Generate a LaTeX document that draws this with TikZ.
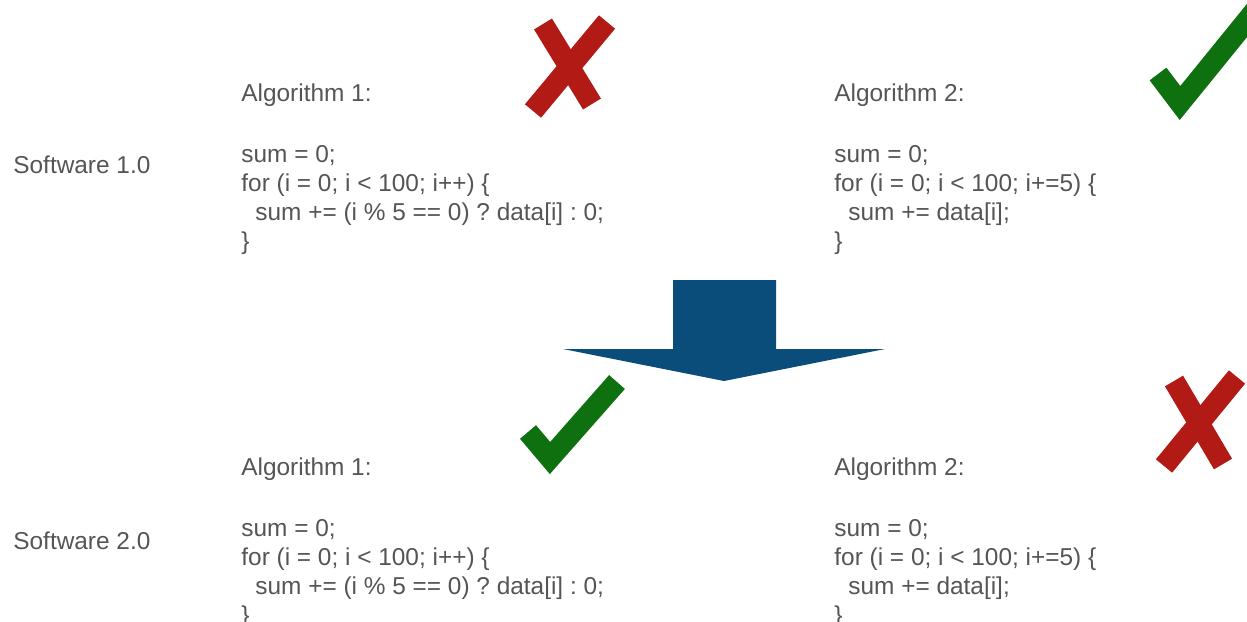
\documentclass[tikz,border=0pt]{standalone}
\usepackage{fontspec}
\setmainfont{Liberation Sans}
\usepackage{xcolor}
\definecolor{textgray}{HTML}{555555}
\definecolor{crossred}{HTML}{B21B15}
\definecolor{tickgreen}{HTML}{0F700F}
\definecolor{arrowblue}{HTML}{0A4D7A}
\usepackage{tikz}
\usetikzlibrary{positioning}
\frenchspacing

\tikzset{
  plaintext/.style={textgray, font=\fontsize{12.2}{14.5}\selectfont, inner sep=0pt, anchor=base west},
  markstroke/.style={line width=10.5pt, line cap=butt},
}

\begin{document}
\begin{tikzpicture}[x=0.5pt, y=-0.5pt]
  \useasboundingbox (0,0) rectangle (1247,621);

  % row labels
  \node[plaintext] (sw1) at (13,173) {Software 1.0};
  \node[plaintext] (sw2) at (13,549) {Software 2.0};

  % top row
  \node[plaintext] (algA1) at (241,101) {Algorithm 1:};
  \node[plaintext] (codeA1) at (241,162) {sum = 0;};
  \node[plaintext] (codeA2) at (241,191) {for (i = 0; i < 100; i++) \{};
  \node[plaintext] (codeA3) at (255,220) {sum += (i \% 5 == 0) ? data[i] : 0;};
  \node[plaintext] (codeA4) at (241,249) {\}};

  \node[plaintext] (algB1) at (834,101) {Algorithm 2:};
  \node[plaintext] (codeB1) at (834,162) {sum = 0;};
  \node[plaintext] (codeB2) at (834,191) {for (i = 0; i < 100; i+=5) \{};
  \node[plaintext] (codeB3) at (848,220) {sum += data[i];};
  \node[plaintext] (codeB4) at (834,249) {\}};

  % bottom row
  \node[plaintext] (algC1) at (241,475) {Algorithm 1:};
  \node[plaintext] (codeC1) at (241,536) {sum = 0;};
  \node[plaintext] (codeC2) at (241,565) {for (i = 0; i < 100; i++) \{};
  \node[plaintext] (codeC3) at (255,594) {sum += (i \% 5 == 0) ? data[i] : 0;};
  \node[plaintext] (codeC4) at (241,623) {\}};

  \node[plaintext] (algD1) at (834,475) {Algorithm 2:};
  \node[plaintext] (codeD1) at (834,536) {sum = 0;};
  \node[plaintext] (codeD2) at (834,565) {for (i = 0; i < 100; i+=5) \{};
  \node[plaintext] (codeD3) at (848,594) {sum += data[i];};
  \node[plaintext] (codeD4) at (834,623) {\}};

  % big arrow
  \fill[arrowblue] (673,280) -- (776,280) -- (776,349) -- (885,349)
    -- (724,381) -- (563,349) -- (673,349) -- cycle;

  % marks
  \draw[markstroke, crossred] (543,24) -- (592,104);
  \draw[markstroke, crossred] (607,22) -- (533,111);
  \draw[markstroke, tickgreen] (1158,74) -- (1180,103) -- (1262,2);

  \draw[markstroke, tickgreen] (528,432) -- (550,458) -- (617,382);
  \draw[markstroke, crossred] (1174,381) -- (1223,464);
  \draw[markstroke, crossred] (1237,377) -- (1164,466);
\end{tikzpicture}
\end{document}
